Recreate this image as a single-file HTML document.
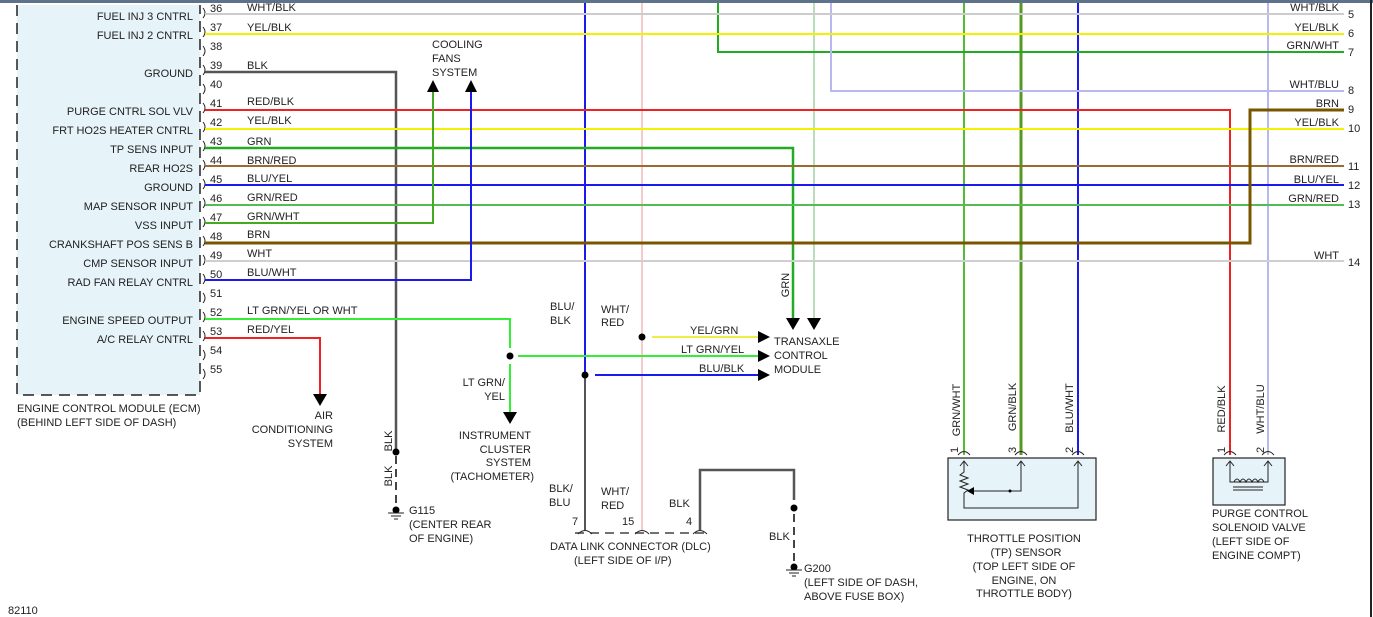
<!DOCTYPE html>
<html><head><meta charset="utf-8"><style>
html,body{margin:0;padding:0;background:#fff;}
svg{display:block;}
text{font-family:"Liberation Sans",sans-serif;font-size:11px;fill:#222;}
.r{text-anchor:end;}
.m{text-anchor:middle;}
</style></head><body>
<svg width="1373" height="617" viewBox="0 0 1373 617" xmlns="http://www.w3.org/2000/svg">
<rect x="0" y="0" width="1373" height="3" fill="#5e7389"/>
<rect x="1370" y="0" width="2" height="617" fill="#222"/>

<!-- ECM box -->
<rect x="17" y="5" width="183" height="390" fill="#e6f3f9"/>
<path d="M17,5 V395 H200 V5" fill="none" stroke="#222" stroke-width="1.5" stroke-dasharray="11,7"/>
<g text-anchor="end">
<text x="193" y="20">FUEL INJ 3 CNTRL</text>
<text x="193" y="39">FUEL INJ 2 CNTRL</text>
<text x="193" y="77">GROUND</text>
<text x="193" y="115">PURGE CNTRL SOL VLV</text>
<text x="193" y="134">FRT HO2S HEATER CNTRL</text>
<text x="193" y="153">TP SENS INPUT</text>
<text x="193" y="172">REAR HO2S</text>
<text x="193" y="191">GROUND</text>
<text x="193" y="210">MAP SENSOR INPUT</text>
<text x="193" y="229">VSS INPUT</text>
<text x="193" y="248">CRANKSHAFT POS SENS B</text>
<text x="193" y="267">CMP SENSOR INPUT</text>
<text x="193" y="286">RAD FAN RELAY CNTRL</text>
<text x="193" y="324">ENGINE SPEED OUTPUT</text>
<text x="193" y="343">A/C RELAY CNTRL</text>
</g>
<g fill="none" stroke="#222" stroke-width="1">
<path d="M203,8 q4,5 0,10 M203,27 q4,5 0,10 M203,46 q4,5 0,10 M203,65 q4,5 0,10 M203,84 q4,5 0,10 M203,103 q4,5 0,10 M203,122 q4,5 0,10 M203,141 q4,5 0,10 M203,160 q4,5 0,10 M203,179 q4,5 0,10 M203,198 q4,5 0,10 M203,217 q4,5 0,10 M203,236 q4,5 0,10 M203,255 q4,5 0,10 M203,274 q4,5 0,10 M203,293 q4,5 0,10 M203,312 q4,5 0,10 M203,331 q4,5 0,10 M203,350 q4,5 0,10 M203,369 q4,5 0,10"/>
</g>
<g>
<text x="210" y="12">36</text><text x="210" y="31">37</text><text x="210" y="50">38</text><text x="210" y="69">39</text><text x="210" y="88">40</text><text x="210" y="107">41</text><text x="210" y="126">42</text><text x="210" y="145">43</text><text x="210" y="164">44</text><text x="210" y="183">45</text><text x="210" y="202">46</text><text x="210" y="221">47</text><text x="210" y="240">48</text><text x="210" y="259">49</text><text x="210" y="278">50</text><text x="210" y="297">51</text><text x="210" y="316">52</text><text x="210" y="335">53</text><text x="210" y="354">54</text><text x="210" y="373">55</text>
</g>
<g>
<text x="247" y="11">WHT/BLK</text><text x="247" y="31">YEL/BLK</text><text x="247" y="69">BLK</text><text x="247" y="105">RED/BLK</text><text x="247" y="124">YEL/BLK</text><text x="247" y="145">GRN</text><text x="247" y="164">BRN/RED</text><text x="247" y="182">BLU/YEL</text><text x="247" y="201">GRN/RED</text><text x="247" y="220">GRN/WHT</text><text x="247" y="238">BRN</text><text x="247" y="257">WHT</text><text x="247" y="276">BLU/WHT</text><text x="247" y="314">LT GRN/YEL OR WHT</text><text x="247" y="333">RED/YEL</text>
</g>

<g fill="none">
<path d="M585,3 V375" stroke="#1a1aee" stroke-width="2"/>
<path d="M585,375 V530" stroke="#555" stroke-width="2"/>
<path d="M642,3 V530" stroke="#f0b8b8" stroke-width="1.5"/>
<path d="M814,3 V318" stroke="#b8e0b8" stroke-width="2"/>
<path d="M964,3 V455" stroke="#55bb33" stroke-width="2"/>
<path d="M1021,3 V455" stroke="#559922" stroke-width="3"/>
<path d="M1078,3 V455" stroke="#1a1aee" stroke-width="2"/>
<path d="M1268,3 V455" stroke="#b8b8ee" stroke-width="2"/>
<path d="M718,3 V52 H1344" stroke="#22aa22" stroke-width="2"/>
<path d="M831,3 V91 H1344" stroke="#b8b8ee" stroke-width="2"/>
</g>
<g fill="none">
<path d="M205,14 H1344" stroke="#ccc" stroke-width="2"/>
<path d="M205,34 H1344" stroke="#f2f200" stroke-width="2"/>
<path d="M205,72 H396 V450" stroke="#555" stroke-width="2.5"/>
<path d="M396,456 V505" stroke="#444" stroke-width="2" stroke-dasharray="8,5"/>
<path d="M205,110 H1230 V455" stroke="#ee2222" stroke-width="2"/>
<path d="M205,129 H1344" stroke="#f2f200" stroke-width="2"/>
<path d="M205,148 H793 V318" stroke="#22aa22" stroke-width="2.5"/>
<path d="M205,166 H1344" stroke="#9a6a30" stroke-width="2"/>
<path d="M205,185 H1344" stroke="#1a1aee" stroke-width="2"/>
<path d="M205,205 H1344" stroke="#55bb55" stroke-width="2"/>
<path d="M205,223 H433 V92" stroke="#44aa22" stroke-width="2"/>
<path d="M205,243 H1250 V110 H1344" stroke="#7a5500" stroke-width="3"/>
<path d="M205,261 H1344" stroke="#cfcfcf" stroke-width="2"/>
<path d="M205,280 H471 V92" stroke="#1a1aee" stroke-width="2"/>
<path d="M205,319 H510 V348" stroke="#33ee33" stroke-width="2"/>
<path d="M510,364 V412" stroke="#33ee33" stroke-width="2"/>
<path d="M518,356 H760" stroke="#33ee33" stroke-width="2"/>
<path d="M652,337 H760" stroke="#eeee44" stroke-width="2"/>
<path d="M595,375 H760" stroke="#1a1aee" stroke-width="2"/>
<path d="M205,338 H320 V395" stroke="#ee2222" stroke-width="2"/>
<path d="M700,530 V470 H794 V500" stroke="#555" stroke-width="2.5"/>
<path d="M794,514 V563" stroke="#444" stroke-width="2" stroke-dasharray="8,5"/>
<path d="M575,533 H708" stroke="#444" stroke-width="1.5" stroke-dasharray="9,6"/>
</g>
<g fill="#000">
<path d="M427,92 L433,80 L439,92z"/><path d="M465,92 L471,80 L477,92z"/>
<path d="M313,394 L320,406 L327,394z"/>
<path d="M503,412 L510,424 L517,412z"/>
<path d="M786,318 L793,330 L800,318z"/><path d="M807,318 L814,330 L821,318z"/>
<path d="M758,331 L770,337 L758,343z"/><path d="M758,350 L770,356 L758,362z"/><path d="M758,369 L770,375 L758,381z"/>
<circle cx="396" cy="452" r="3.5"/><circle cx="510" cy="356" r="3.5"/><circle cx="585" cy="375" r="3.5"/><circle cx="642" cy="337" r="3.5"/><circle cx="794" cy="508" r="3.5"/>
<circle cx="396" cy="510" r="3.5"/><circle cx="794" cy="567" r="3.5"/>
</g>
<g stroke="#222" stroke-width="1">
<path d="M388,513 H404 M391,516 H401 M394,519 H398"/>
<path d="M786,570 H802 M789,573 H799 M792,576 H796"/>
<path d="M578,534 q7,-7 14,0 M635,534 q7,-7 14,0 M693,534 q7,-7 14,0" fill="none"/>
</g>
<g text-anchor="end">
<text x="1339" y="11">WHT/BLK</text><text x="1339" y="31">YEL/BLK</text><text x="1339" y="49">GRN/WHT</text><text x="1339" y="88">WHT/BLU</text><text x="1339" y="107">BRN</text><text x="1339" y="126">YEL/BLK</text><text x="1339" y="163">BRN/RED</text><text x="1339" y="183">BLU/YEL</text><text x="1339" y="202">GRN/RED</text><text x="1339" y="259">WHT</text>
</g>
<g>
<text x="1348" y="18">5</text><text x="1348" y="37">6</text><text x="1348" y="56">7</text><text x="1348" y="94">8</text><text x="1348" y="113">9</text><text x="1348" y="132">10</text><text x="1348" y="170">11</text><text x="1348" y="189">12</text><text x="1348" y="208">13</text><text x="1348" y="266">14</text>
</g>
<text x="432" y="48">COOLING</text><text x="432" y="62">FANS</text><text x="432" y="76">SYSTEM</text>
<g text-anchor="end"><text x="333" y="419">AIR</text><text x="333" y="433">CONDITIONING</text><text x="333" y="447">SYSTEM</text>
<text x="505" y="386">LT GRN/</text><text x="505" y="400">YEL</text>
<text x="531" y="439">INSTRUMENT</text><text x="531" y="453">CLUSTER</text><text x="531" y="466">SYSTEM</text><text x="534" y="480">(TACHOMETER)</text></g>
<text x="409" y="514">G115</text><text x="409" y="528">(CENTER REAR</text><text x="409" y="542">OF ENGINE)</text>
<text transform="translate(392,441) rotate(-90)" class="m">BLK</text>
<text transform="translate(392,476) rotate(-90)" class="m">BLK</text>
<text transform="translate(789,285) rotate(-90)" class="m">GRN</text>
<text x="550" y="310">BLU/</text><text x="550" y="324">BLK</text>
<text x="601" y="313">WHT/</text><text x="601" y="326">RED</text>
<text x="690" y="334">YEL/GRN</text><text x="681" y="353">LT GRN/YEL</text><text x="699" y="372">BLU/BLK</text>
<text x="774" y="345">TRANSAXLE</text><text x="774" y="359">CONTROL</text><text x="774" y="373">MODULE</text>
<text x="549" y="492">BLK/</text><text x="549" y="506">BLU</text>
<text x="601" y="495">WHT/</text><text x="601" y="509">RED</text>
<text x="669" y="507">BLK</text>
<text x="572" y="525">7</text><text x="622" y="525">15</text><text x="686" y="525">4</text>
<text x="769" y="540">BLK</text>
<text x="550" y="550">DATA LINK CONNECTOR (DLC)</text><text x="574" y="564">(LEFT SIDE OF I/P)</text>
<text x="804" y="572">G200</text><text x="804" y="586">(LEFT SIDE OF DASH,</text><text x="804" y="600">ABOVE FUSE BOX)</text>
<text x="17" y="412">ENGINE CONTROL MODULE (ECM)</text><text x="17" y="426">(BEHIND LEFT SIDE OF DASH)</text>
<text x="8" y="614">82110</text>

<!-- TP sensor -->
<rect x="948" y="458" width="148" height="62" fill="#e6f3f9" stroke="#222" stroke-width="1.2"/>
<g fill="none" stroke="#222" stroke-width="1">
<path d="M958,455 q6,-7 12,0 M1015,455 q6,-7 12,0 M1072,455 q6,-7 12,0 M1224,455 q6,-7 12,0 M1262,455 q6,-7 12,0"/>
<path d="M960,466 l4,-5 l4,5 M964,461 V472 l-4,3 l8,3 l-8,3 l8,3 l-8,3 l8,3 l-4,3 V508 H1078 V461 M1074,466 l4,-5 l4,5"/>
<path d="M1017,466 l4,-5 l4,5 M1021,461 V491 H972"/>
</g>
<path d="M967,491 l7,-4 v8z" fill="#000"/><circle cx="1010" cy="491" r="1.5" fill="#000"/>
<rect x="1213" y="458" width="72" height="47" fill="#e6f3f9" stroke="#222" stroke-width="1.2"/>
<g fill="none" stroke="#222" stroke-width="1">
<path d="M1226,466 l4,-5 l4,5 M1230,461 V482 H1268 V461 M1264,466 l4,-5 l4,5"/>
<path d="M1234,482 q3,-6 6,0 q3,-6 6,0 q3,-6 6,0 q3,-6 6,0 q3,-6 6,0"/>
<path d="M1233,487 H1263 M1233,490 H1263"/>
</g>
<text transform="translate(960,410) rotate(-90)" class="m">GRN/WHT</text>
<text transform="translate(1016,407) rotate(-90)" class="m">GRN/BLK</text>
<text transform="translate(1073,408) rotate(-90)" class="m">BLU/WHT</text>
<text transform="translate(1225,409) rotate(-90)" class="m">RED/BLK</text>
<text transform="translate(1264,409) rotate(-90)" class="m">WHT/BLU</text>
<text transform="translate(958,453) rotate(-90)">1</text>
<text transform="translate(1016,453) rotate(-90)">3</text>
<text transform="translate(1073,453) rotate(-90)">2</text>
<text transform="translate(1225,453) rotate(-90)">1</text>
<text transform="translate(1264,453) rotate(-90)">2</text>
<g text-anchor="middle"><text x="1024" y="542">THROTTLE POSITION</text><text x="1026" y="556">(TP) SENSOR</text><text x="1024" y="570">(TOP LEFT SIDE OF</text><text x="1024" y="584">ENGINE, ON</text><text x="1024" y="597">THROTTLE BODY)</text></g>
<text x="1212" y="517">PURGE CONTROL</text><text x="1212" y="531">SOLENOID VALVE</text><text x="1212" y="545">(LEFT SIDE OF</text><text x="1212" y="559">ENGINE COMPT)</text>
</svg>
</body></html>
